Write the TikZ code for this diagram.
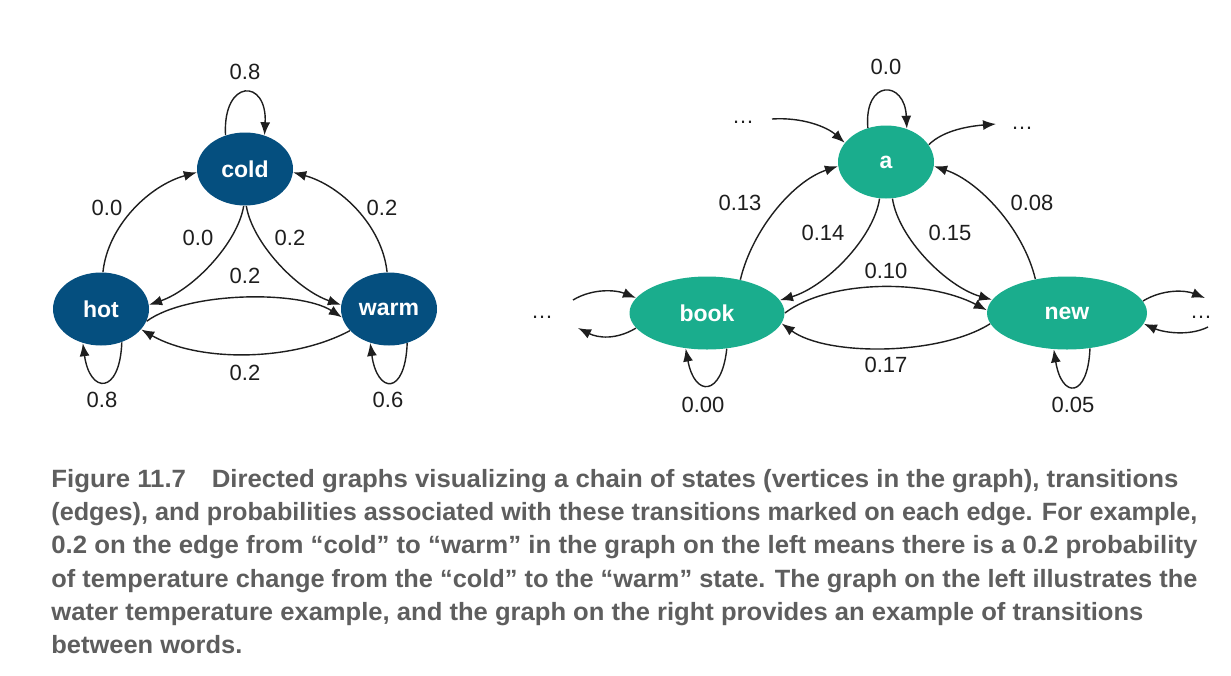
\documentclass[tikz,border=0pt]{standalone}
\usepackage{fontspec}
\usepackage{graphicx}
\setmainfont{Liberation Sans}
\usetikzlibrary{shapes.geometric,arrows.meta}
\definecolor{cblue}{HTML}{054F7F}
\definecolor{cteal}{HTML}{1AAD8D}
\definecolor{capgray}{HTML}{5E5E5E}
\definecolor{ink}{HTML}{1E1E1E}
\begin{document}
\begin{tikzpicture}[x=0.5pt,y=0.5pt,
  bn/.style={ellipse,fill=cblue,text=white,font=\fontsize{11.5}{13}\selectfont\bfseries,inner sep=0pt,minimum width=48pt,minimum height=36.5pt},
  tn/.style={ellipse,fill=cteal,text=white,font=\fontsize{11.5}{13}\selectfont\bfseries,inner sep=0pt,minimum height=36.5pt},
  lab/.style={font=\fontsize{11}{12}\selectfont,text=ink,inner sep=0pt},
  arr/.style={draw=ink,line width=0.7pt,-{Latex[length=6.5pt,width=5pt]}},
  captxt/.style={anchor=base west,inner sep=0pt,text=capgray,font=\fontsize{12.5}{14}\selectfont\bfseries}
]
\useasboundingbox[fill=white] (0,0) rectangle (1231,-675);

% ---------- left graph ----------
\node[bn] (cold) at (245,-169) {cold};
\node[bn] (hot) at (101,-309) {hot};
\node[bn] (warm) at (389,-309) {warm};

\draw[arr] (cold.120) .. controls +(-3,57) and +(3,57) .. (cold.60);
\draw[arr] (hot.87) .. controls +(5,47) and +(-47,-13) .. (cold.184);
\draw[arr] (cold.268) .. controls +(-6,-37) and +(44,15) .. (hot.5);
\draw[arr] (cold.272) .. controls +(6,-37) and +(-44,15) .. (warm.175);
\draw[arr] (warm.93) .. controls +(-5,47) and +(47,-13) .. (cold.356);
\draw[arr] (hot.345) .. controls +(41,30) and +(-42,27) .. (warm.190);
\draw[arr] (warm.209) .. controls +(-58,-31) and +(58,-33) .. (hot.333);
\draw[arr] (hot.302) .. controls +(-2,-53) and +(7,-51) .. (hot.242);
\draw[arr] (warm.298) .. controls +(-2,-53) and +(7,-51) .. (warm.241);

\node[lab] (l1) at (245,-72) {0.8};
\node[lab] (l2) at (107,-208) {0.0};
\node[lab] (l3) at (198,-238) {0.0};
\node[lab] (l4) at (290,-238) {0.2};
\node[lab] (l5) at (382,-208) {0.2};
\node[lab] (l6) at (245,-276) {0.2};
\node[lab] (l7) at (245,-373) {0.2};
\node[lab] (l8) at (102,-400) {0.8};
\node[lab] (l9) at (388,-400) {0.6};

% ---------- right graph ----------
\node[tn,minimum width=48pt] (a) at (886,-162) {a};
\node[tn,minimum width=77.5pt] (book) at (707,-313) {book};
\node[tn,minimum width=80pt] (new) at (1067,-313) {new};

\node[lab] (d1) at (743,-122) {…};
\node[lab] (d2) at (1022,-128) {…};
\node[lab] (d3) at (542,-317) {…};
\node[lab] (d4) at (1201,-317) {…};
\coordinate (s1) at (772,-119);
\coordinate (e1) at (996,-124);
\coordinate (bi) at (573,-300);
\coordinate (bo) at (578,-328);
\coordinate (ro) at (1205,-298);
\coordinate (ri) at (1208,-327);

\draw[arr] (a.118) .. controls +(-4,49) and +(-2,49) .. (a.58);
\draw[arr] (s1) .. controls +(30,2) and +(-18,16) .. (a.155);
\draw[arr] (a.22) .. controls +(15,15) and +(-25,-2) .. (e1);
\draw[arr] (book.45) .. controls +(12,50) and +(-45,-15) .. (a.185);
\draw[arr] (a.260) .. controls +(-6,-40) and +(45,13) .. (book.10);
\draw[arr] (a.280) .. controls +(6,-40) and +(-45,13) .. (new.170);
\draw[arr] (new.133) .. controls +(-12,50) and +(45,-15) .. (a.355);
\draw[arr] (book.0) .. controls +(45,34) and +(-59,31) .. (new.178);
\draw[arr] (new.188) .. controls +(-51,-32) and +(45,-33) .. (book.352);
\draw[arr] (book.299) .. controls +(-5,-48) and +(9,-49) .. (book.239);
\draw[arr] (new.303) .. controls +(-2,-50) and +(8,-50) .. (new.250);
\draw[arr] (bi) .. controls +(20,12) and +(-20,8) .. (book.168);
\draw[arr] (book.192) .. controls +(-20,-12) and +(20,-10) .. (bo);
\draw[arr] (new.9) .. controls +(20,12) and +(-20,8) .. (ro);
\draw[arr] (ri) .. controls +(-20,-10) and +(18,-8) .. (new.352);

\node[lab] (r1) at (886,-67) {0.0};
\node[lab] (r2) at (740,-203) {0.13};
\node[lab] (r3) at (823,-233) {0.14};
\node[lab] (r4) at (950,-233) {0.15};
\node[lab] (r5) at (1032,-203) {0.08};
\node[lab] (r6) at (886,-271) {0.10};
\node[lab] (r7) at (886,-365) {0.17};
\node[lab] (r8) at (703,-405) {0.00};
\node[lab] (r9) at (1073,-405) {0.05};

% ---------- caption ----------
\node[captxt] (c1) at (51,-487) {\resizebox{563.5pt}{\height}{Figure 11.7\hspace{1em}Directed graphs visualizing a chain of states (vertices in the graph), transitions}};
\node[captxt] (c2) at (51,-520) {\resizebox{573pt}{\height}{(edges), and probabilities associated with these transitions marked on each edge. For example,}};
\node[captxt] (c3) at (51,-553.5) {\resizebox{573pt}{\height}{0.2 on the edge from “cold” to “warm” in the graph on the left means there is a 0.2 probability}};
\node[captxt] (c4) at (51,-587) {\resizebox{573pt}{\height}{of temperature change from the “cold” to the “warm” state. The graph on the left illustrates the}};
\node[captxt] (c5) at (51,-620) {\resizebox{546pt}{\height}{water temperature example, and the graph on the right provides an example of transitions}};
\node[captxt] (c6) at (51,-653.5) {\resizebox{95.5pt}{\height}{between words.}};
\end{tikzpicture}
\end{document}
